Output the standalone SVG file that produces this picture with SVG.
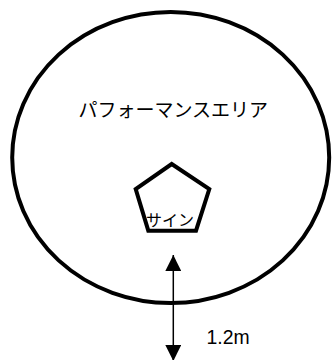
<svg xmlns="http://www.w3.org/2000/svg" width="333" height="360" viewBox="0 0 333 360">
<style>
.shape{fill:none;stroke:#000;stroke-width:4}
.jp{font-family:"Noto Sans CJK JP","Noto Sans",sans-serif;fill:#000}
.lbl{font-family:"Liberation Sans",Arial,sans-serif;fill:#000}
</style>
<defs>
<marker id="ah" viewBox="0 0 16 16" refX="16" refY="8" markerWidth="16" markerHeight="16" markerUnits="userSpaceOnUse" orient="auto-start-reverse">
<path d="M0,0 L16,8 L0,16 Z" fill="#000"/>
</marker>
</defs>
<rect width="333" height="360" fill="#fff"/>
<g id="area">
<ellipse class="shape" cx="170.7" cy="157.5" rx="158.5" ry="145.5"/>
<text class="jp" x="173.3" y="117" font-size="19" text-anchor="middle">パフォーマンスエリア</text>
</g>
<g id="sign">
<polygon class="shape" points="171.7,164 209.3,189 196,230.7 148.3,230.7 135.7,189"/>
<text class="jp" x="170" y="226" font-size="16" text-anchor="middle">サイン</text>
</g>
<g id="connectors">
<line x1="173.3" y1="255" x2="173.3" y2="361" stroke="#000" stroke-width="1.5" marker-start="url(#ah)" marker-end="url(#ah)"/>
</g>
<g id="dimension">
<text class="lbl" x="206.5" y="344" font-size="19.4">1.2m</text>
</g>
</svg>
